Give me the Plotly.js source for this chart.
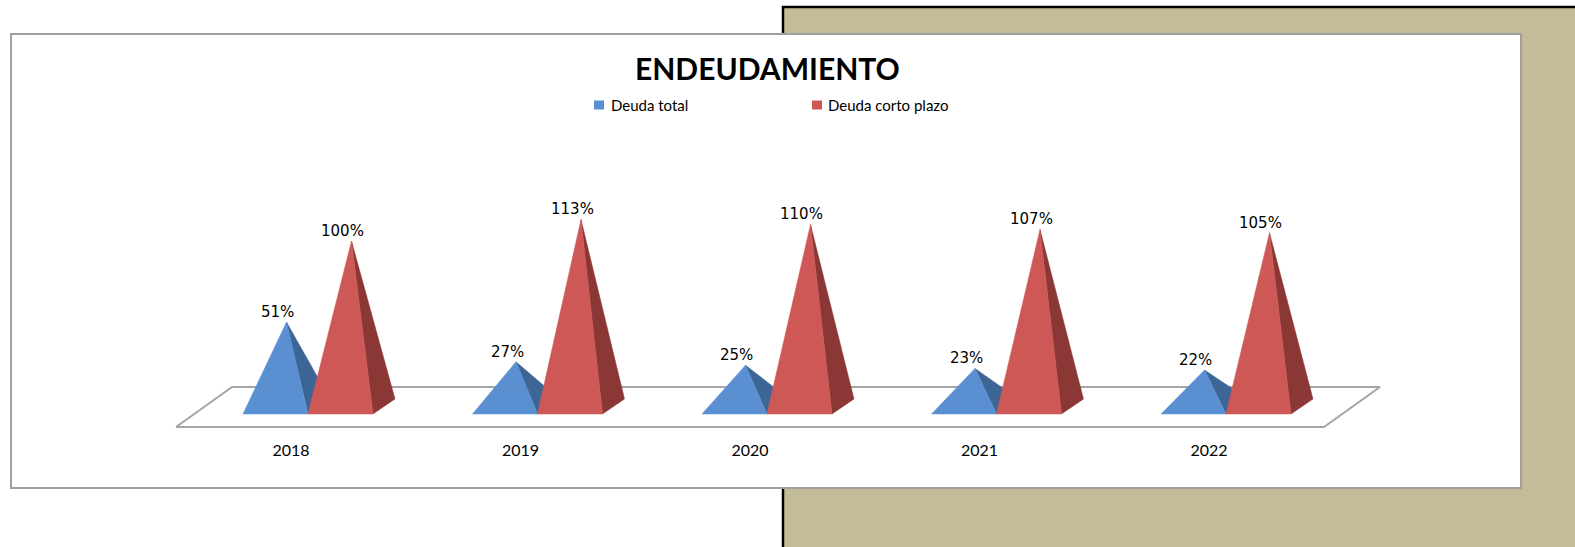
<!DOCTYPE html>
<html>
<head>
<meta charset="utf-8">
<script src="https://cdn.plot.ly/plotly-3.0.1.min.js"></script>
<style>html,body{margin:0;padding:0;background:#fff;}#chart{width:1575px;height:547px;}</style>
</head>
<body>
<div id="chart"></div>
<script>
// ---- data ----
const categories = ["2018", "2019", "2020", "2021", "2022"];
const deudaTotal = [51, 27, 25, 23, 22];
const deudaCortoPlazo = [100, 113, 110, 107, 105];
const seriesNames = ["Deuda total", "Deuda corto plazo"];
const chartTitle = "ENDEUDAMIENTO";

// ---- styling / geometry (data units) ----
const W = 1575, H = 547;
const pyrW = 0.2832;      // pyramid base width (x units)
const depthX = 0.0959;    // depth offset x
const depthY = 9.06;      // depth offset y
const colors = {
  blueFront: "#5A90D2", blueSide: "#3D6696",
  redFront: "#CE5856", redSide: "#8A3736"
};
const fx = p => p / W;
const fy = p => 1 - p / H;

const traces = [];
const n = categories.length;

// floor
const fl = -0.575, fr = n - 1 + 0.427, fdx = 0.244, fdy = 24.2, fyv = -7.85;
traces.push({
  x: [fl, fr, fr + fdx, fl + fdx, fl],
  y: [fyv, fyv, fyv + fdy, fyv + fdy, fyv],
  mode: "lines", fill: "toself", fillcolor: "#FFFFFF",
  line: {color: "#A5A5A5", width: 2}, hoverinfo: "skip", showlegend: false
});

function pyramid(x0, v, front, side) {
  const x1 = x0 + pyrW;
  const ax = x0 + pyrW / 2 + depthX / 2;
  const ay = v + depthY / 2;
  traces.push({
    x: [x1, x1 + depthX, ax, x1], y: [0, depthY, ay, 0],
    mode: "lines", fill: "toself", fillcolor: side,
    line: {color: side, width: 0.5}, hoverinfo: "skip", showlegend: false
  });
  traces.push({
    x: [x0, x1, ax, x0], y: [0, 0, ay, 0],
    mode: "lines", fill: "toself", fillcolor: front,
    line: {color: front, width: 0.5}, hoverinfo: "skip", showlegend: false
  });
  return [ax, ay];
}

const annotations = [];
const labelFont = {family: "DejaVu Sans", size: 15, color: "#000"};
categories.forEach((c, i) => {
  const a1 = pyramid(i - pyrW, deudaTotal[i], colors.blueFront, colors.blueSide);
  const a2 = pyramid(i, deudaCortoPlazo[i], colors.redFront, colors.redSide);
  [[a1, deudaTotal[i]], [a2, deudaCortoPlazo[i]]].forEach(([a, v]) => {
    annotations.push({x: a[0], y: a[1], xref: "x", yref: "y", text: v + "%",
      showarrow: false, xanchor: "center", yanchor: "middle", xshift: -9, yshift: 10,
      font: labelFont});
  });
});

// category labels
traces.push({
  x: categories.map((c, i) => i - 0.074), y: categories.map(() => -22.9),
  text: categories, mode: "text", textposition: "middle center",
  textfont: {family: "Lato", size: 16, color: "#000"},
  hoverinfo: "skip", showlegend: false
});

// title
annotations.push({x: fx(767), y: fy(67.5), xref: "paper", yref: "paper", text: "<b>" + chartTitle + "</b>",
  showarrow: false, xanchor: "center", yanchor: "middle",
  font: {family: "Lato", size: 30, color: "#000"}});
// legend
const legendItems = [[599, 609, colors.blueFront], [817, 826, colors.redFront]];
const shapes = [
  {type: "rect", xref: "paper", yref: "paper", x0: fx(783), x1: fx(1600), y0: fy(7), y1: fy(600),
   fillcolor: "#C4BC98", line: {color: "#000", width: 2.5}, layer: "below"},
  {type: "rect", xref: "paper", yref: "paper", x0: fx(11), x1: fx(1521), y0: fy(34), y1: fy(488),
   fillcolor: "#FFFFFF", line: {color: "#A0A0A0", width: 2}, layer: "below"}
];
legendItems.forEach((it, k) => {
  shapes.push({type: "rect", xref: "paper", yref: "paper",
    x0: fx(it[0] - 5), x1: fx(it[0] + 5), y0: fy(100.5), y1: fy(109.5),
    fillcolor: it[2], line: {width: 0}});
  annotations.push({x: fx(it[1]), y: fy(105.5), xref: "paper", yref: "paper", text: seriesNames[k],
    showarrow: false, xanchor: "left", yanchor: "middle",
    font: {family: "Lato", size: 15, color: "#000"}});
});

const layout = {
  width: W, height: H,
  margin: {l: 0, r: 0, t: 0, b: 0, pad: 0},
  paper_bgcolor: "#FFFFFF", plot_bgcolor: "rgba(0,0,0,0)",
  showlegend: false,
  xaxis: {range: [-308 / 229.5, (W - 308) / 229.5], visible: false, fixedrange: true},
  yaxis: {range: [-(H - 414) / 1.655, 414 / 1.655], visible: false, fixedrange: true},
  shapes: shapes, annotations: annotations
};
Plotly.newPlot("chart", traces, layout, {displayModeBar: false, staticPlot: true});
</script>
</body>
</html>
